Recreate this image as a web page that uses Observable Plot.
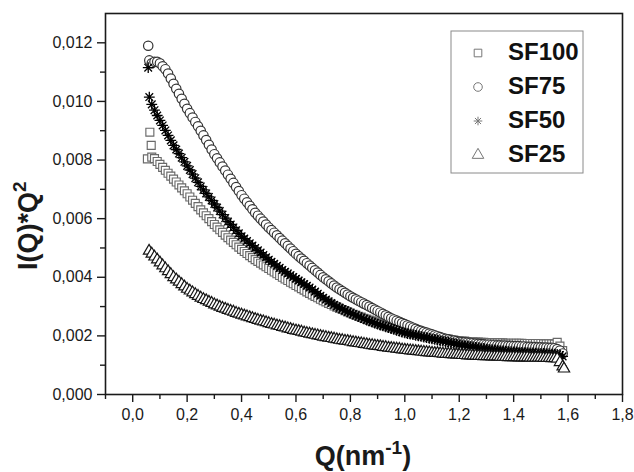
<!DOCTYPE html>
<html>
<head>
<meta charset="utf-8">
<script src="https://cdn.jsdelivr.net/npm/d3@7"></script>
<script src="https://cdn.jsdelivr.net/npm/@observablehq/plot@0.6"></script>
<style>
  html, body { margin: 0; padding: 0; background: #fff; }
  svg { display: block; }
</style>
</head>
<body>
<div id="chart"></div>
<script>
// ---- Data (I(Q)*Q^2 values are given in units of 10^-3) ----
const SCALE = 0.001;

const Q = [
  0.07,0.08,0.09,0.10,
  0.11,0.12,0.13,0.14,0.15,0.16,0.17,0.18,0.19,0.20,
  0.21,0.22,0.23,0.24,0.25,0.26,0.27,0.28,0.29,0.30,
  0.31,0.32,0.33,0.34,0.35,0.36,0.37,0.38,0.39,0.40,
  0.41,0.42,0.43,0.44,0.45,0.46,0.47,0.48,0.49,0.50,
  0.51,0.52,0.53,0.54,0.55,0.56,0.57,0.58,0.59,0.60,
  0.61,0.62,0.63,0.64,0.65,0.66,0.67,0.68,0.69,0.70,
  0.71,0.72,0.73,0.74,0.75,0.76,0.77,0.78,0.79,0.80,
  0.81,0.82,0.83,0.84,0.85,0.86,0.87,0.88,0.89,0.90,
  0.91,0.92,0.93,0.94,0.95,0.96,0.97,0.98,0.99,1.00,
  1.01,1.02,1.03,1.04,1.05,1.06,1.07,1.08,1.09,1.10,
  1.11,1.12,1.13,1.14,1.15,1.16,1.17,1.18,1.19,1.20,
  1.21,1.22,1.23,1.24,1.25,1.26,1.27,1.28,1.29,1.30,
  1.31,1.32,1.33,1.34,1.35,1.36,1.37,1.38,1.39,1.40,
  1.41,1.42,1.43,1.44,1.45,1.46,1.47,1.48,1.49,1.50,
  1.51,1.52,1.53,1.54,1.55,1.56,1.57,1.58
];

const sf100 = [
  8.10,8.05,7.95,7.85,
  7.75,7.65,7.55,7.45,7.35,7.25,7.15,7.05,6.95,6.85,
  6.74,6.63,6.52,6.41,6.30,6.20,6.10,6.00,5.90,5.80,
  5.71,5.62,5.53,5.44,5.35,5.27,5.19,5.11,5.03,4.95,
  4.88,4.81,4.74,4.67,4.60,4.54,4.48,4.42,4.36,4.30,
  4.24,4.18,4.12,4.06,4.00,3.94,3.89,3.83,3.78,3.72,
  3.67,3.61,3.56,3.50,3.45,3.40,3.35,3.30,3.25,3.20,
  3.16,3.11,3.07,3.02,2.98,2.94,2.90,2.86,2.82,2.78,
  2.74,2.71,2.67,2.64,2.60,2.57,2.54,2.51,2.48,2.45,
  2.42,2.39,2.36,2.33,2.30,2.27,2.25,2.22,2.20,2.17,
  2.15,2.13,2.11,2.09,2.07,2.05,2.03,2.01,1.99,1.97,
  1.96,1.94,1.93,1.91,1.90,1.89,1.87,1.86,1.84,1.83,
  1.82,1.82,1.81,1.80,1.80,1.79,1.79,1.78,1.78,1.77,
  1.77,1.77,1.76,1.76,1.76,1.76,1.75,1.75,1.75,1.75,
  1.75,1.75,1.75,1.74,1.74,1.74,1.74,1.74,1.74,1.74,
  1.73,1.73,1.73,1.73,1.72,1.78,1.65,1.50
];

const sf75 = [
  11.30,11.35,11.35,11.30,
  11.20,11.10,10.95,10.78,10.60,10.43,10.26,10.09,9.92,9.75,
  9.60,9.45,9.30,9.15,9.00,8.84,8.68,8.52,8.36,8.20,
  8.06,7.92,7.78,7.64,7.50,7.36,7.22,7.08,6.94,6.80,
  6.68,6.56,6.44,6.32,6.20,6.10,6.00,5.90,5.80,5.70,
  5.61,5.52,5.43,5.34,5.25,5.16,5.07,4.98,4.89,4.80,
  4.72,4.64,4.56,4.48,4.40,4.32,4.24,4.16,4.08,4.00,
  3.93,3.86,3.79,3.72,3.65,3.59,3.53,3.47,3.41,3.35,
  3.30,3.25,3.20,3.15,3.10,3.05,3.00,2.95,2.90,2.85,
  2.80,2.75,2.70,2.65,2.60,2.56,2.52,2.48,2.44,2.40,
  2.36,2.32,2.28,2.24,2.20,2.17,2.14,2.11,2.08,2.05,
  2.02,1.99,1.96,1.93,1.90,1.88,1.86,1.84,1.82,1.80,
  1.79,1.78,1.77,1.76,1.75,1.74,1.73,1.72,1.71,1.70,
  1.70,1.69,1.69,1.68,1.68,1.67,1.67,1.66,1.66,1.65,
  1.65,1.65,1.64,1.64,1.63,1.63,1.62,1.62,1.61,1.61,
  1.60,1.60,1.59,1.59,1.58,1.55,1.50,1.40
];

const sf50 = [
  9.90,9.70,9.52,9.35,
  9.18,9.01,8.84,8.67,8.50,8.36,8.22,8.08,7.94,7.80,
  7.66,7.52,7.38,7.24,7.10,6.98,6.86,6.74,6.62,6.50,
  6.38,6.26,6.14,6.02,5.90,5.80,5.70,5.60,5.50,5.40,
  5.32,5.24,5.16,5.08,5.00,4.92,4.84,4.76,4.68,4.60,
  4.53,4.46,4.39,4.32,4.25,4.19,4.13,4.07,4.01,3.95,
  3.89,3.83,3.77,3.71,3.65,3.58,3.51,3.44,3.37,3.30,
  3.24,3.18,3.12,3.06,3.00,2.96,2.91,2.87,2.82,2.78,
  2.74,2.70,2.66,2.62,2.58,2.54,2.51,2.47,2.44,2.40,
  2.37,2.34,2.31,2.28,2.25,2.22,2.19,2.16,2.13,2.10,
  2.08,2.06,2.04,2.02,2.00,1.98,1.96,1.94,1.92,1.90,
  1.88,1.86,1.84,1.82,1.80,1.78,1.76,1.74,1.72,1.70,
  1.69,1.67,1.66,1.64,1.63,1.61,1.60,1.58,1.57,1.55,
  1.54,1.53,1.52,1.51,1.50,1.49,1.48,1.47,1.46,1.45,
  1.45,1.44,1.44,1.43,1.43,1.42,1.42,1.41,1.41,1.40,
  1.40,1.39,1.39,1.38,1.38,1.37,1.35,1.30
];

const sf25 = [
  4.80,4.70,4.60,4.50,
  4.40,4.30,4.20,4.10,4.00,3.92,3.84,3.76,3.68,3.60,
  3.54,3.48,3.42,3.36,3.30,3.25,3.21,3.16,3.12,3.07,
  3.03,2.99,2.95,2.92,2.88,2.85,2.82,2.78,2.75,2.72,
  2.69,2.66,2.63,2.60,2.57,2.54,2.51,2.49,2.46,2.43,
  2.40,2.38,2.35,2.33,2.30,2.28,2.25,2.23,2.20,2.18,
  2.16,2.14,2.11,2.09,2.07,2.05,2.03,2.01,1.99,1.97,
  1.95,1.93,1.92,1.90,1.88,1.86,1.85,1.83,1.82,1.80,
  1.78,1.77,1.75,1.74,1.72,1.71,1.69,1.68,1.66,1.65,
  1.64,1.62,1.61,1.59,1.58,1.57,1.56,1.55,1.53,1.52,
  1.51,1.50,1.49,1.48,1.47,1.46,1.45,1.44,1.43,1.42,
  1.41,1.41,1.40,1.39,1.38,1.38,1.37,1.36,1.36,1.35,
  1.34,1.34,1.33,1.33,1.32,1.32,1.31,1.31,1.30,1.30,
  1.30,1.29,1.29,1.29,1.28,1.28,1.28,1.27,1.27,1.27,
  1.27,1.26,1.26,1.26,1.26,1.25,1.25,1.25,1.25,1.25,
  1.24,1.24,1.24,1.23,1.23,1.22,1.10,0.95
];

// first (low-Q) points and last points, read separately
const sf100HeadQ = [0.054, 0.063, 0.068];
const sf100Head  = [8.04, 8.95, 8.50];
const sf75HeadQ  = [0.057, 0.061];
const sf75Head   = [11.90, 11.40];
const sf50HeadQ  = [0.057, 0.061];
const sf50Head   = [11.15, 10.15];
const sf25HeadQ  = [0.060];
const sf25Head   = [4.90];
const sf25TailQ  = [1.585];
const sf25Tail   = [0.88];

const seriesNames = ["SF100", "SF75", "SF50", "SF25"];

const xTicks = [0, 0.2, 0.4, 0.6, 0.8, 1.0, 1.2, 1.4, 1.6, 1.8];
const xMinorTicks = [-0.1, 0.1, 0.3, 0.5, 0.7, 0.9, 1.1, 1.3, 1.5, 1.7];
const yTicks = [0, 0.002, 0.004, 0.006, 0.008, 0.010, 0.012];
const yMinorTicks = [0.001, 0.003, 0.005, 0.007, 0.009, 0.011];

// ---- Build tables ----
function table(headQ, head, vals, tailQ = [], tail = []) {
  const rows = [];
  headQ.forEach((q, i) => rows.push({q, v: head[i] * SCALE}));
  Q.forEach((q, i) => { if (vals[i] != null) rows.push({q, v: vals[i] * SCALE}); });
  tailQ.forEach((q, i) => rows.push({q, v: tail[i] * SCALE}));
  return rows;
}
const d100 = table(sf100HeadQ, sf100Head, sf100);
const d75 = table(sf75HeadQ, sf75Head, sf75);
const d50 = table(sf50HeadQ, sf50Head, sf50);
const d25 = table(sf25HeadQ, sf25Head, sf25, sf25TailQ, sf25Tail);

const asterisk8 = {
  draw(ctx, size) {
    const r = Math.sqrt(size / Math.PI);
    const d = r * Math.SQRT1_2;
    ctx.moveTo(-r, 0); ctx.lineTo(r, 0);
    ctx.moveTo(0, -r); ctx.lineTo(0, r);
    ctx.moveTo(-d, -d); ctx.lineTo(d, d);
    ctx.moveTo(-d, d); ctx.lineTo(d, -d);
  }
};

const styles = {
  SF100: {symbol: "square", r: 4.5, stroke: "#6a6a6a", fill: "white", sw: 1.15},
  SF75: {symbol: "circle", r: 4.7, stroke: "#333", fill: "white", sw: 1.2},
  SF50: {symbol: asterisk8, r: 5.4, stroke: "#000", fill: "none", sw: 1.3},
  SF25: {symbol: "triangle", r: 4.2, stroke: "#151515", fill: "white", sw: 1.2}
};

const fmtX = d => d.toFixed(1).replace(".", ",");
const fmtY = d => d.toFixed(3).replace(".", ",");

const W = 634, H = 472;
const dotOpts = s => ({x: "q", y: "v", symbol: s.symbol, r: s.r, stroke: s.stroke, fill: s.fill, strokeWidth: s.sw});
const chart = Plot.plot({
  width: W,
  height: H,
  marginLeft: 105,
  marginRight: 12,
  marginTop: 13,
  marginBottom: 78,
  x: {domain: [-0.1, 1.8]},
  y: {domain: [0, 0.013]},
  style: {fontFamily: "'Liberation Sans', Arial, sans-serif", fontSize: "16px", color: "#1a1a1a", background: "white"},
  marks: [
    Plot.dot(d100, dotOpts(styles.SF100)),
    Plot.dot(d75, dotOpts(styles.SF75)),
    Plot.dot(d50, dotOpts(styles.SF50)),
    Plot.dot(d25, dotOpts(styles.SF25)),
    Plot.frame({stroke: "#1a1a1a", strokeWidth: 1.6}),
    Plot.axisX({ticks: xTicks, tickFormat: fmtX, tickSize: 8, tickPadding: 6, strokeWidth: 1.4, label: null}),
    Plot.axisX({ticks: xMinorTicks, tickFormat: () => "", tickSize: 5, strokeWidth: 1.4, label: null}),
    Plot.axisY({ticks: yTicks, tickFormat: fmtY, tickSize: 8, tickPadding: 5, strokeWidth: 1.4, label: null}),
    Plot.axisY({ticks: yMinorTicks, tickFormat: () => "", tickSize: 5, strokeWidth: 1.4, label: null})
  ]
});

document.getElementById("chart").appendChild(chart);

// ---- Axis titles and legend ----
const svg = d3.select(chart);
const font = "'Liberation Sans', Arial, sans-serif";

const xt = svg.append("text")
  .attr("x", 363).attr("y", 465)
  .attr("text-anchor", "middle")
  .attr("font-family", font).attr("font-weight", "bold").attr("font-size", 27)
  .attr("fill", "#1a1a1a");
xt.append("tspan").text("Q(nm");
xt.append("tspan").attr("font-size", 19).attr("dy", -11).text("-1");
xt.append("tspan").attr("dy", 11).text(")");

const yt = svg.append("text")
  .attr("transform", "translate(37,270) rotate(-90)")
  .attr("text-anchor", "start")
  .attr("font-family", font).attr("font-weight", "bold").attr("font-size", 27)
  .attr("fill", "#1a1a1a");
yt.append("tspan").text("I(Q)*Q");
yt.append("tspan").attr("font-size", 19).attr("dy", -11).text("2");

const lg = svg.append("g");
lg.append("rect")
  .attr("x", 451).attr("y", 31).attr("width", 132).attr("height", 142)
  .attr("fill", "white").attr("stroke", "#8a8a8a").attr("stroke-width", 1);

const legendSymbols = {SF100: d3.symbolSquare, SF75: d3.symbolCircle, SF50: asterisk8, SF25: d3.symbolTriangle};
seriesNames.forEach((name, i) => {
  const cy = 60 + i * 34;
  const st = styles[name];
  lg.append("path")
    .attr("transform", `translate(478,${cy - 7})`)
    .attr("d", d3.symbol(legendSymbols[name], 4.3 * 4.3 * Math.PI)())
    .attr("fill", st.fill === "none" ? "none" : "white")
    .attr("stroke", "#777").attr("stroke-width", 1);
  lg.append("text")
    .attr("x", 508).attr("y", cy)
    .attr("text-anchor", "start")
    .attr("font-family", font).attr("font-weight", "bold").attr("font-size", 24)
    .attr("fill", "#111")
    .text(name);
});
</script>
</body>
</html>
